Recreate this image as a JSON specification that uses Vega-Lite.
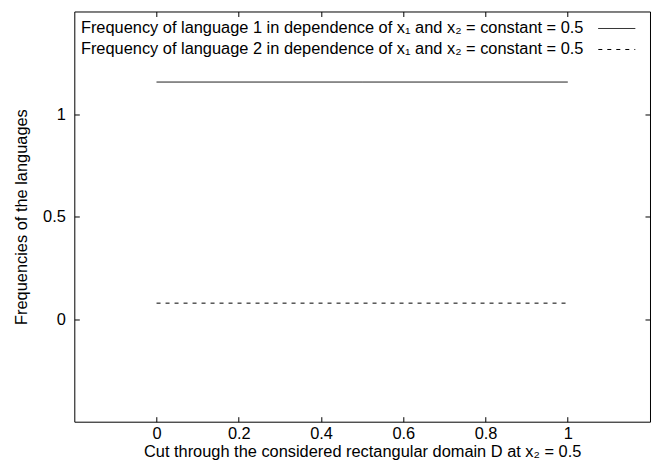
{
  "$schema": "https://vega.github.io/schema/vega-lite/v6.json",
  "width": 575.7,
  "height": 410.2,
  "autosize": {"type": "none"},
  "padding": {"left": 74.3, "top": 11.5, "right": 2, "bottom": 39},
  "background": "white",
  "config": {
    "font": "Liberation Sans",
    "view": {"stroke": "black", "strokeWidth": 1},
    "axis": {
      "grid": false,
      "domain": false,
      "tickSize": -5,
      "tickColor": "black",
      "tickWidth": 1,
      "labelFontSize": 16.4,
      "labelColor": "black",
      "titleFontSize": 16.4,
      "titleFontWeight": "normal",
      "titleColor": "black"
    }
  },
  "data": {
    "values": [
      {"series": "Frequency of language 1 in dependence of x₁ and x₂ = constant = 0.5", "x1": 0, "freq": 1.156},
      {"series": "Frequency of language 1 in dependence of x₁ and x₂ = constant = 0.5", "x1": 0.5, "freq": 1.156},
      {"series": "Frequency of language 1 in dependence of x₁ and x₂ = constant = 0.5", "x1": 1, "freq": 1.156},
      {"series": "Frequency of language 2 in dependence of x₁ and x₂ = constant = 0.5", "x1": 0, "freq": 0.078},
      {"series": "Frequency of language 2 in dependence of x₁ and x₂ = constant = 0.5", "x1": 0.5, "freq": 0.078},
      {"series": "Frequency of language 2 in dependence of x₁ and x₂ = constant = 0.5", "x1": 1, "freq": 0.078}
    ]
  },
  "layer": [
    {
      "mark": {"type": "line", "stroke": "black", "strokeWidth": 1},
      "encoding": {
        "x": {
          "field": "x1", "type": "quantitative",
          "scale": {"domain": [-0.2, 1.2], "nice": false, "zero": false},
          "axis": {
            "orient": "bottom",
            "values": [0, 0.2, 0.4, 0.6, 0.8, 1],
            "format": ".1~f",
            "labelPadding": 9,
            "title": "Cut through the considered rectangular domain D at x₂ = 0.5",
            "titlePadding": 1
          }
        },
        "y": {
          "field": "freq", "type": "quantitative",
          "scale": {"domain": [-0.5, 1.5], "nice": false, "zero": false},
          "axis": {
            "orient": "left",
            "values": [0, 0.5, 1],
            "format": "~g",
            "labelPadding": 14,
            "title": "Frequencies of the languages",
            "titlePadding": 13
          }
        },
        "strokeDash": {
          "field": "series", "type": "nominal",
          "scale": {"range": [[1, 0], [4, 5]]},
          "legend": {
            "orient": "none",
            "legendX": 532.5,
            "legendY": 7,
            "title": null,
            "symbolType": "M-2,0H2",
            "symbolFillColor": "transparent",
            "symbolStrokeColor": "black",
            "symbolStrokeWidth": 1,
            "symbolSize": 342,
            "labelFontSize": 16.4,
            "labelColor": "black",
            "labelLimit": 0,
            "labelAlign": "right",
            "labelOffset": -43.3,
            "rowPadding": 2,
            "padding": 0
          }
        }
      }
    },
    {
      "mark": {"type": "point", "opacity": 0},
      "encoding": {
        "x": {
          "field": "x1", "type": "quantitative",
          "axis": {"orient": "top", "values": [0, 0.2, 0.4, 0.6, 0.8, 1], "labels": false, "title": null}
        },
        "y": {
          "field": "freq", "type": "quantitative",
          "axis": {"orient": "right", "values": [0, 0.5, 1], "labels": false, "title": null}
        }
      }
    }
  ]
}
